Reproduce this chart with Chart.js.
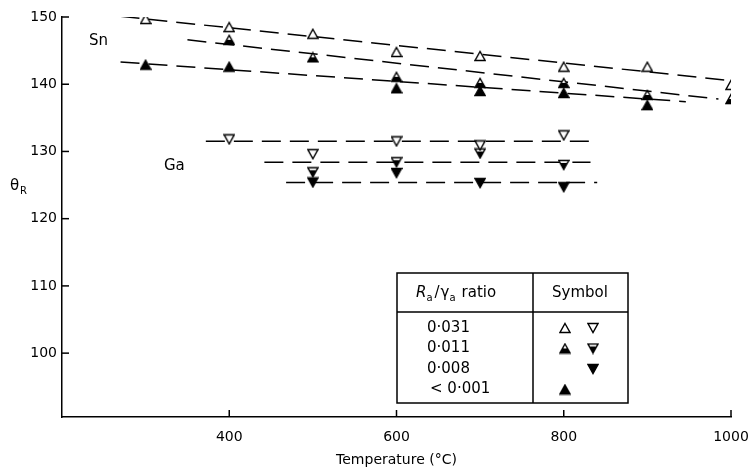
<!DOCTYPE html>
<html>
<head>
<meta charset="utf-8">
<script src="https://cdn.jsdelivr.net/npm/chart.js@4"></script>
<style>
  body { margin: 0; background: #fff; }
</style>
</head>
<body>
<canvas id="myChart" width="751" height="469"></canvas>
<script>
// ticks
const xTicks = [400, 600, 800, 1000];
const yTicks = [100, 110, 120, 130, 140, 150];

// Sn points
const snOpenT = [300, 400, 500, 600, 700, 800, 900, 1000];
const snOpen = [149.7, 148.5, 147.5, 144.8, 144.2, 142.6, 142.6, 139.9];
const snHalfT = [400, 500, 600, 700, 800, 900, 1000];
const snHalf = [146.6, 144.0, 141.1, 140.2, 140.2, 138.4, 137.8];
const snFullT = [300, 400, 600, 700, 800, 900];
const snFull = [142.9, 142.6, 139.4, 139.0, 138.7, 136.9];

// Ga points
const gaOpenT = [400, 500, 600, 700, 800];
const gaOpen = [131.8, 129.6, 131.5, 130.9, 132.4];
const gaHalfT = [500, 600, 700, 800];
const gaHalf = [126.9, 128.4, 129.7, 128.0];
const gaFullT = [500, 600, 700, 800];
const gaFull = [125.4, 126.8, 125.3, 124.7];

// dashed fit lines (end points)
const snLineOpenT = [270, 995];
const snLineOpen = [150.1, 140.6];
const snLineHalfT = [350, 985];
const snLineHalf = [146.6, 137.8];
const snLineFullT = [270, 946];
const snLineFull = [143.3, 137.4];
const gaLineOpenT = [372, 832];
const gaLineOpen = [131.5, 131.5];
const gaLineHalfT = [442, 832];
const gaLineHalf = [128.4, 128.4];
const gaLineFullT = [468, 840];
const gaLineFull = [125.4, 125.4];

// legend table
const legendRatios = ["0·031", "0·011", "0·008", "< 0·001"];
const legendUp = ["open", "half", null, "full"];
const legendDown = ["open", "half", "full", null];

const fuente = "DejaVu Sans";

// marker images
function triangulo(dir, tipo) {
  const c = document.createElement("canvas");
  c.width = 12;
  c.height = 12;
  const g = c.getContext("2d");
  g.beginPath();
  if (dir === "up") {
    g.moveTo(6, 1.5); g.lineTo(11, 10.5); g.lineTo(1, 10.5);
  } else {
    g.moveTo(1, 1.5); g.lineTo(11, 1.5); g.lineTo(6, 10.5);
  }
  g.closePath();
  g.fillStyle = tipo === "full" ? "#000" : "#fff";
  g.fill();
  if (tipo === "half") {
    g.save();
    g.clip();
    g.fillStyle = "#000";
    g.fillRect(0, dir === "up" ? 6 : 4, 12, 8);
    g.restore();
  }
  g.lineWidth = 1.4;
  g.strokeStyle = "#000";
  g.lineJoin = "miter";
  g.stroke();
  return c;
}
const marcas = {
  up: { open: triangulo("up", "open"), half: triangulo("up", "half"), full: triangulo("up", "full") },
  down: { open: triangulo("down", "open"), half: triangulo("down", "half"), full: triangulo("down", "full") }
};

const pts = (xs, ys) => xs.map((x, i) => ({ x: x, y: ys[i] }));

function puntos(xs, ys, img) {
  return { data: pts(xs, ys), showLine: false, pointStyle: img, pointRadius: 6, order: 1 };
}
function linea(xs, ys) {
  return {
    data: pts(xs, ys), showLine: true, pointRadius: 0, borderColor: "#000",
    borderWidth: 1.5, borderDash: [19, 9], fill: false, order: 2
  };
}

// text, ticks and the legend table
const extras = {
  id: "extras",
  afterDraw(chart) {
    const c = chart.ctx;
    const xs = chart.scales.x, ys = chart.scales.y;
    const a = chart.chartArea;
    c.save();
    c.strokeStyle = "#000";
    c.lineWidth = 1.5;
    // inward tick marks
    yTicks.forEach(v => {
      const y = ys.getPixelForValue(v);
      c.beginPath(); c.moveTo(a.left, y); c.lineTo(a.left + 7, y); c.stroke();
    });
    xTicks.forEach(v => {
      const x = xs.getPixelForValue(v);
      c.beginPath(); c.moveTo(x, a.bottom); c.lineTo(x, a.bottom - 7); c.stroke();
    });

    c.fillStyle = "#000";
    c.textBaseline = "middle";
    c.textAlign = "left";
    c.font = "15px " + fuente;
    c.fillText("Sn", 89, 41);
    c.fillText("Ga", 164, 166);
    // theta_R
    c.font = "15px " + fuente;
    c.fillText("θ", 10, 186);
    c.font = "10px " + fuente;
    c.fillText("R", 20, 191);

    // legend table
    c.lineWidth = 1.5;
    c.strokeRect(397, 273, 231, 130);
    c.beginPath();
    c.moveTo(533, 273); c.lineTo(533, 403);
    c.moveTo(397, 312); c.lineTo(628, 312);
    c.stroke();

    // header
    let x = 416;
    const yh = 293;
    c.font = "italic 15px " + fuente;
    c.fillText("R", x, yh); x += c.measureText("R").width;
    c.font = "10px " + fuente;
    c.fillText("a", x, yh + 5); x += c.measureText("a").width + 2;
    c.font = "15px " + fuente;
    c.fillText("/", x, yh); x += c.measureText("/").width + 1;
    c.fillText("γ", x, yh); x += c.measureText("γ").width;
    c.font = "10px " + fuente;
    c.fillText("a", x, yh + 5); x += c.measureText("a").width + 6;
    c.font = "15px " + fuente;
    c.fillText("ratio", x, yh);
    c.textAlign = "center";
    c.fillText("Symbol", 580, yh);

    c.textAlign = "left";
    c.font = "15px " + fuente;
    legendRatios.forEach((r, i) => {
      const yy = 328 + i * 20.5;
      c.fillText(r, r.startsWith("<") ? 430 : 427, yy);
      if (legendUp[i]) c.drawImage(marcas.up[legendUp[i]], 559, yy - 6);
      if (legendDown[i]) c.drawImage(marcas.down[legendDown[i]], 587, yy - 6);
    });
    c.restore();
  }
};

const ctx = document.getElementById("myChart");
new Chart(ctx, {
  type: "scatter",
  data: {
    datasets: [
      puntos(snOpenT, snOpen, marcas.up.open),
      puntos(snHalfT, snHalf, marcas.up.half),
      puntos(snFullT, snFull, marcas.up.full),
      puntos(gaOpenT, gaOpen, marcas.down.open),
      puntos(gaHalfT, gaHalf, marcas.down.half),
      puntos(gaFullT, gaFull, marcas.down.full),
      linea(snLineOpenT, snLineOpen),
      linea(snLineHalfT, snLineHalf),
      linea(snLineFullT, snLineFull),
      linea(gaLineOpenT, gaLineOpen),
      linea(gaLineHalfT, gaLineHalf),
      linea(gaLineFullT, gaLineFull)
    ]
  },
  options: {
    responsive: false,
    animation: false,
    layout: { padding: { top: 17, right: 20, left: 0, bottom: 0 } },
    plugins: { legend: { display: false }, tooltip: { enabled: false } },
    scales: {
      x: {
        type: "linear",
        min: 200,
        max: 1000,
        afterFit(s) { s.height = 52; s.paddingRight = 0; s.paddingLeft = 0; },
        afterBuildTicks(s) { s.ticks = xTicks.map(v => ({ value: v })); },
        grid: { drawOnChartArea: false, drawTicks: false },
        border: { color: "#000", width: 1.5 },
        ticks: {
          color: "#000", font: { family: fuente, size: 14 }, padding: 12, maxRotation: 0, autoSkip: false,
          callback: v => String(v)
        },
        title: { display: true, text: "Temperature (°C)", color: "#000", font: { family: fuente, size: 14 }, padding: { top: 0, bottom: 0 } }
      },
      y: {
        type: "linear",
        min: 90.5,
        max: 150,
        afterFit(s) { s.width = 62; s.paddingTop = 0; s.paddingBottom = 0; },
        afterBuildTicks(s) { s.ticks = yTicks.map(v => ({ value: v })); },
        grid: { drawOnChartArea: false, drawTicks: false },
        border: { color: "#000", width: 1.5 },
        ticks: { color: "#000", font: { family: fuente, size: 14 }, padding: 5, autoSkip: false }
      }
    }
  },
  plugins: [extras]
});
</script>
</body>
</html>
